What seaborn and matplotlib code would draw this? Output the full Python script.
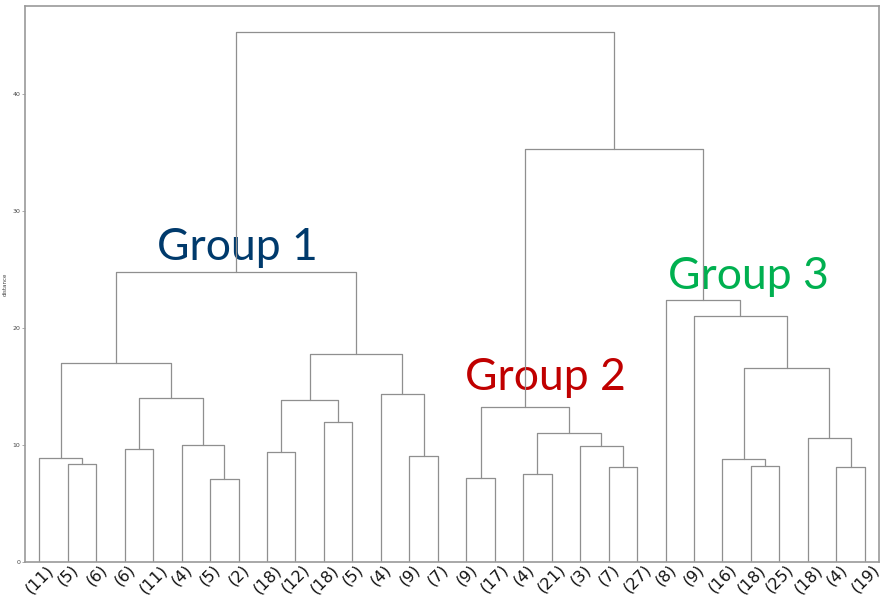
import matplotlib
matplotlib.use("Agg")
import matplotlib.pyplot as plt
import seaborn as sns
import pandas as pd

# Leaf labels (cluster sizes) in dendrogram order
leaf_labels = ["(11)", "(5)", "(6)", "(6)", "(11)", "(4)", "(5)", "(2)",
               "(18)", "(12)", "(18)", "(5)", "(4)", "(9)", "(7)",
               "(9)", "(17)", "(4)", "(21)", "(3)", "(7)", "(27)",
               "(8)", "(9)", "(16)", "(18)", "(25)", "(18)", "(4)", "(19)"]

# Linkage: each merge joins two nodes (leaves 0..29, merges numbered from 30 on)
merge_left = [1, 0, 3, 6, 5, 32, 31, 8, 10, 37, 13, 12, 39, 36,
              15, 17, 20, 19, 45, 44,
              25, 24, 28, 27, 51, 23, 22,
              49, 43]
merge_right = [2, 30, 4, 7, 33, 34, 35, 9, 11, 38, 14, 40, 41, 42,
               16, 18, 21, 46, 47, 48,
               26, 50, 29, 52, 53, 54, 55,
               56, 57]
merge_height = [8.35, 8.9, 9.65, 7.07, 10.0, 14.05, 17.0, 9.37, 11.94, 13.8,
                9.03, 14.36, 17.75, 24.76,
                7.15, 7.5, 8.1, 9.9, 11.0, 13.2,
                8.2, 8.8, 8.1, 10.55, 16.6, 21.0, 22.4,
                35.27, 45.24]

group_names = ["Group 1", "Group 2", "Group 3"]
group_colors = ["#003A6C", "#C00000", "#00B050"]
group_x = [46.4, 154.6, 225.8]
group_y = [25.8, 14.7, 23.3]

# Node positions in the scipy-style layout: leaves at 5, 15, 25, ...
n_leaves = len(leaf_labels)
node_x = {i: 5 + 10 * i for i in range(n_leaves)}
node_y = {i: 0.0 for i in range(n_leaves)}
rows = []
for k, (a, b, h) in enumerate(zip(merge_left, merge_right, merge_height)):
    nid = n_leaves + k
    xa, xb = node_x[a], node_x[b]
    for px, py in [(xa, node_y[a]), (xa, h), (xb, h), (xb, node_y[b])]:
        rows.append({"x": px, "y": py, "link": nid})
    node_x[nid] = (xa + xb) / 2
    node_y[nid] = h
links = pd.DataFrame(rows)

sns.set_style("white")
fig = plt.figure(figsize=(8.81, 5.99), dpi=100)
ax = fig.add_axes([0.0284, 0.0618, 0.9694, 0.9282])

sns.lineplot(data=links, x="x", y="y", units="link", estimator=None, sort=False,
             color="#8f8f8f", linewidth=0.9, ax=ax, zorder=2)

for name, col, gx, gy in zip(group_names, group_colors, group_x, group_y):
    ax.text(gx, gy, name, color=col, fontsize=32, family=["Lato", "DejaVu Sans"],
            ha="left", va="baseline", zorder=1)

ax.set_xlim(0, 10 * n_leaves)
ax.set_ylim(0, max(merge_height) * 1.05)
ax.set_xticks([5 + 10 * i for i in range(n_leaves)])
ax.set_xticklabels(leaf_labels, rotation=45, fontsize=11.5, color="#111111")
ax.set_yticks([0, 10, 20, 30, 40])
ax.tick_params(axis="y", labelsize=4.5, labelcolor="#444444", length=2, width=0.5,
               color="#888888", left=True, pad=1.5)
ax.tick_params(axis="x", length=0, pad=0)
ax.set_xlabel("")
ax.set_ylabel("distance", fontsize=4, color="#444444", labelpad=3)
for s in ax.spines.values():
    s.set_color("#9a9a9a")
    s.set_linewidth(1.2)

fig.savefig("out.png", dpi=100)
